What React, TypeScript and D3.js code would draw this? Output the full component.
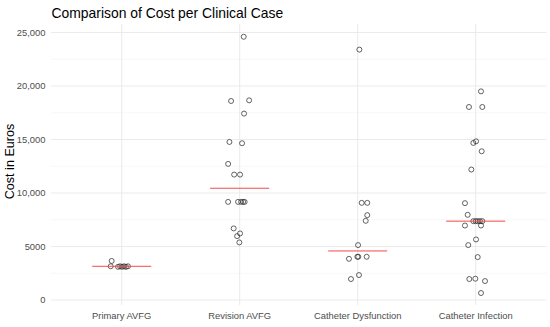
import React, { useEffect, useRef } from 'react';
import * as d3 from 'd3';

// categories and values
const categories = ['Primary AVFG', 'Revision AVFG', 'Catheter Dysfunction', 'Catheter Infection'];

const primaryCost = [3650, 3150, 3100, 3150, 3100, 3150, 3100, 3150];
const primaryJitter = [-0.085, -0.093, -0.031, -0.014, 0.003, 0.02, 0.036, 0.053];

const revisionCost = [24600, 18600, 18660, 17420, 14770, 14650, 12720, 11720, 11720,
  9170, 9170, 9170, 9170, 9170, 6690, 6220, 5970, 5380];
const revisionJitter = [0.034, -0.073, 0.08, 0.037, -0.087, 0.02, -0.098, -0.047, 0.003,
  -0.098, -0.014, 0.012, 0.029, 0.042, -0.051, 0.003, -0.022, -0.003];

const dysfunctionCost = [23400, 9080, 9080, 7930, 7400, 5130, 4040, 4040, 4040, 3850, 2330, 1960];
const dysfunctionJitter = [0.014, 0.034, 0.081, 0.081, 0.068, 0.003, -0.003, 0.005, 0.076, -0.074, 0.011, -0.057];

const infectionCost = [19500, 18040, 18040, 14830, 14680, 13900, 12190, 9050, 7960,
  7370, 7370, 7370, 7370, 7370, 6960, 6960, 5660, 5130, 4010, 1990, 1960, 1770, 650];
const infectionJitter = [0.045, -0.057, 0.056, 0.003, -0.02, 0.051, -0.037, -0.091, -0.068,
  -0.02, 0, 0.017, 0.036, 0.056, -0.091, 0.045, 0.003, -0.063, 0.017, -0.003, -0.054, 0.079, 0.045];

const majorTicks = [0, 5000, 10000, 15000, 20000, 25000];
const minorTicks = [2500, 7500, 12500, 17500, 22500];

const App = () => {
  const svgRef = useRef(null);

  useEffect(() => {
    const svg = d3.select(svgRef.current);
    const panel = { left: 50.9, right: 546.5, top: 24, bottom: 305 };
    const font = '"Liberation Sans", Arial, sans-serif';

    svg.selectAll('*').remove();

    const x = d3.scalePoint()
      .domain(categories)
      .range([panel.left, panel.right])
      .padding(0.6);

    const y = d3.scaleLinear()
      .domain([0, 25000])
      .range([300, 32.5]);

    const groups = [
      { cat: categories[0], cost: primaryCost, jit: primaryJitter },
      { cat: categories[1], cost: revisionCost, jit: revisionJitter },
      { cat: categories[2], cost: dysfunctionCost, jit: dysfunctionJitter },
      { cat: categories[3], cost: infectionCost, jit: infectionJitter },
    ];

    // grid
    svg.append('g')
      .selectAll('line')
      .data(minorTicks)
      .enter()
      .append('line')
      .attr('x1', panel.left)
      .attr('x2', panel.right)
      .attr('y1', d => y(d))
      .attr('y2', d => y(d))
      .attr('stroke', '#f2f2f2')
      .attr('stroke-width', 0.6);

    svg.append('g')
      .selectAll('line')
      .data(majorTicks)
      .enter()
      .append('line')
      .attr('x1', panel.left)
      .attr('x2', panel.right)
      .attr('y1', d => y(d))
      .attr('y2', d => y(d))
      .attr('stroke', '#ebebeb')
      .attr('stroke-width', 1);

    svg.append('g')
      .selectAll('line')
      .data(categories)
      .enter()
      .append('line')
      .attr('x1', d => x(d))
      .attr('x2', d => x(d))
      .attr('y1', panel.top)
      .attr('y2', panel.bottom)
      .attr('stroke', '#ebebeb')
      .attr('stroke-width', 1);

    // y tick labels
    const fmt = d => (d >= 10000 ? d3.format(',')(d) : String(d));
    svg.append('g')
      .selectAll('text')
      .data(majorTicks)
      .enter()
      .append('text')
      .attr('x', 45.5)
      .attr('y', d => y(d))
      .attr('dy', '0.35em')
      .attr('text-anchor', 'end')
      .attr('font-family', font)
      .attr('font-size', 9.4)
      .attr('fill', '#4d4d4d')
      .text(fmt);

    // x tick labels
    svg.append('g')
      .selectAll('text')
      .data(categories)
      .enter()
      .append('text')
      .attr('x', d => x(d))
      .attr('y', 318.5)
      .attr('text-anchor', 'middle')
      .attr('font-family', font)
      .attr('font-size', 9.4)
      .attr('fill', '#4d4d4d')
      .text(d => d);

    // points
    const step = x.step();
    groups.forEach(g => {
      svg.append('g')
        .selectAll('circle')
        .data(g.cost)
        .enter()
        .append('circle')
        .attr('cx', (d, i) => x(g.cat) + g.jit[i] * step)
        .attr('cy', d => y(d))
        .attr('r', 2.5)
        .attr('fill', 'none')
        .attr('stroke', '#222')
        .attr('stroke-width', 0.7);
    });

    // median lines
    svg.append('g')
      .selectAll('line')
      .data(groups)
      .enter()
      .append('line')
      .attr('x1', d => x(d.cat) - 0.25 * step)
      .attr('x2', d => x(d.cat) + 0.25 * step)
      .attr('y1', d => y(d3.median(d.cost)))
      .attr('y2', d => y(d3.median(d.cost)))
      .attr('stroke', '#f24a4a')
      .attr('stroke-width', 1);

    // titles
    svg.append('text')
      .attr('x', 51.5)
      .attr('y', 18.3)
      .attr('font-family', font)
      .attr('font-size', 13.9)
      .attr('fill', '#000')
      .text('Comparison of Cost per Clinical Case');

    svg.append('text')
      .attr('transform', `translate(14, 161.5) rotate(-90)`)
      .attr('text-anchor', 'middle')
      .attr('font-family', font)
      .attr('font-size', 12.6)
      .attr('fill', '#000')
      .text('Cost in Euros');
  }, []);

  return (
    <svg ref={svgRef} width={550} height={327}
      style={{ position: 'absolute', left: 0, top: 0, background: '#fff' }}></svg>
  );
};

export default App;
